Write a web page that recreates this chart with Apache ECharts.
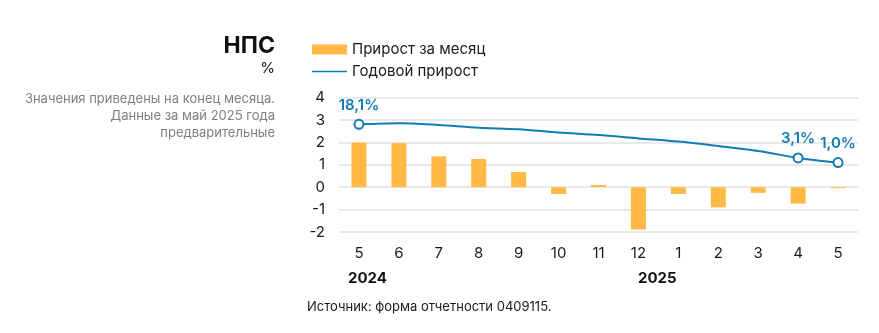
<!DOCTYPE html>
<html><head><meta charset="utf-8">
<script src="https://cdn.jsdelivr.net/npm/echarts@6/dist/echarts.min.js"></script>
<style>html,body{margin:0;padding:0;background:#fff}#c{width:879px;height:333px}</style>
</head><body><div id="c"></div>
<script>
const categories = ['5','6','7','8','9','10','11','12','1','2','3','4','5'];
const monthlyGrowth = [2.0, 1.97, 1.38, 1.26, 0.68, -0.3, 0.1, -1.89, -0.3, -0.9, -0.25, -0.73, -0.04];
const annualGrowth = [18.1, 18.6, 17.8, 16.6, 15.9, 14.4, 13.3, 11.8, 10.4, 8.4, 6.2, 3.1, 1.0];
const labelledPoints = [0, 11, 12];
const yTicks = [-2, -1, 0, 1, 2, 3, 4];
const years = ['2024', '2025'];

const FONT = 'Inter, "Noto Sans", sans-serif';
const BLUE = '#127ab5';
const chart = echarts.init(document.getElementById('c'));
chart.setOption({
  animation: false,
  textStyle: { fontFamily: FONT },
  grid: { left: 339, right: 21, top: 97.7, bottom: 101, containLabel: false },
  legend: {
    orient: 'vertical', left: 307, top: 37, itemWidth: 35, itemHeight: 10, itemGap: 7,
    textStyle: { fontSize: 15, color: '#1a1a1a', fontFamily: FONT },
    data: [
      { name: 'Прирост за месяц', icon: 'rect' },
      { name: 'Годовой прирост', icon: 'path://M0,0 L0.01,0 L0,0.01 Z M0,4.2 L35,4.2 L35,5.8 L0,5.8 Z M35,10 L34.99,10 L35,9.99 Z' }
    ]
  },
  xAxis: {
    type: 'category', data: categories,
    axisLine: { show: false, onZero: false }, axisTick: { show: false },
    axisLabel: { fontSize: 15, color: '#1a1a1a', margin: 14 }
  },
  yAxis: [{
    type: 'value', min: yTicks[0], max: yTicks[yTicks.length - 1], interval: 1,
    axisLine: { show: false }, axisTick: { show: false },
    axisLabel: { fontSize: 15, color: '#1a1a1a', margin: 14 },
    splitLine: { lineStyle: { color: '#e2e2e2', width: 1.5 } }
  }, {
    type: 'value', min: -30, max: 30, show: false, splitLine: { show: false }
  }],
  series: [{
    name: 'Прирост за месяц', type: 'bar', data: monthlyGrowth, barWidth: 15,
    itemStyle: { color: '#FFB944' }
  }, {
    name: 'Годовой прирост', type: 'line', yAxisIndex: 1, smooth: 0.3,
    symbol: 'none',
    lineStyle: { color: BLUE, width: 2 }, itemStyle: { color: BLUE },
    data: annualGrowth.map((v, i) => labelledPoints.includes(i) ? {
      value: v, symbol: 'circle', symbolSize: 9,
      itemStyle: { color: '#fff', borderColor: BLUE, borderWidth: 2 },
      label: {
        show: true, position: 'top', distance: 6, color: BLUE, fontSize: 15, fontWeight: 600,
        formatter: p => p.value.toFixed(1).replace('.', ',') + '%'
      }
    } : v)
  }],
  graphic: [
    { type: 'text', right: 879 - 275, top: 35, style: { text: 'НПС', font: 'bold 23px ' + FONT, fill: '#111', textAlign: 'right' } },
    { type: 'text', right: 879 - 275, top: 61, style: { text: '%', font: '15px ' + FONT, fill: '#111', textAlign: 'right' } },
    { type: 'text', right: 879 - 275, top: 91, style: { text: 'Значения приведены на конец месяца.\nДанные за май 2025 года\nпредварительные', font: '13px ' + FONT, fill: '#808080', textAlign: 'right', lineHeight: 17 } },
    { type: 'text', left: 348, top: 271, style: { text: years[0], font: 'bold 15px ' + FONT, fill: '#111' } },
    { type: 'text', left: 638, top: 271, style: { text: years[1], font: 'bold 15px ' + FONT, fill: '#111' } },
    { type: 'text', left: 307, top: 301, style: { text: 'Источник: форма отчетности 0409115.', font: '13px ' + FONT, fill: '#1a1a1a' } }
  ]
});
</script></body></html>
